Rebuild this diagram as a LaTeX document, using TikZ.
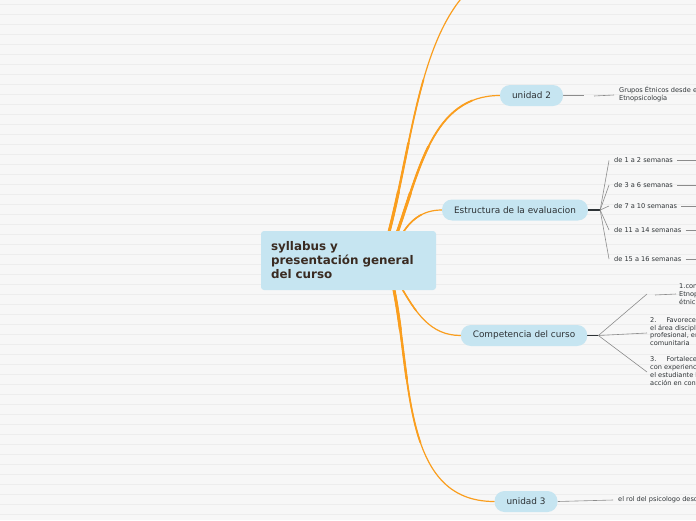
\documentclass[tikz,border=0pt]{standalone}
\usepackage{fontspec}
\setmainfont{DejaVu Sans}
\usetikzlibrary{backgrounds}
\definecolor{bubble}{HTML}{C6E5F1}
\definecolor{trunk}{HTML}{FA9E1E}
\definecolor{twig}{HTML}{8C8C8C}
\definecolor{inkbrown}{HTML}{3A2B22}
\definecolor{ink}{HTML}{2E3336}
\definecolor{paper}{HTML}{F7F7F7}
\definecolor{stripe}{HTML}{EDEDED}

\begin{document}
\begin{tikzpicture}[x=1pt,y=-1pt,
  topic/.style={fill=bubble, rounded corners=3pt, text=inkbrown, font=\bfseries\fontsize{11.9}{14}\selectfont, align=left, text width=155pt, inner xsep=10pt, minimum height=59pt},
  pill/.style={fill=bubble, rounded corners=10pt, text=ink, font=\fontsize{8.9}{10}\selectfont, inner xsep=12pt, minimum height=21pt},
  leaf/.style={text=ink, font=\fontsize{6.6}{7.7}\selectfont, inner sep=0pt, anchor=west, align=left},
  limb/.style={trunk, line cap=round},
  twigline/.style={twig, line width=0.6pt},
  knot/.style={ink, line width=1.2pt}]
\useasboundingbox (0,0) rectangle (696,520);
\clip (0,0) rectangle (696,520);

% central topic and branches
\node[topic] (root) at (348.5,260.5) {syllabus y\\presentación general\\del curso};
\node[pill] (unit2) at (531.5,95.5) {unidad 2};
\node[pill] (eval) at (515,210) {Estructura de la evaluacion};
\node[pill] (comp) at (524,335.5) {Competencia del curso};
\node[pill] (unit3) at (526,501.5) {unidad 3};
\coordinate (unit1) at (545,-40);
\coordinate (edge) at (700,0);

% leaves
\node[leaf] (ethno) at (619,94) {Grupos Étnicos desde el\\Etnopsicología};
\node[leaf] (w1) at (614,160.5) {de 1 a 2 semanas};
\node[leaf] (w2) at (614,185) {de 3 a 6 semanas};
\node[leaf] (w3) at (614,206) {de 7 a 10 semanas};
\node[leaf] (w4) at (614,230) {de 11 a 14 semanas};
\node[leaf] (w5) at (614,259) {de 15 a 16 semanas};
\node[leaf] (c1) at (679,294) {1.con\\Etnop\\étnic};
\node[leaf] (c2) at (650,331.5) {2.\hspace{10pt}Favorece\\el área discipli\\profesional, en\\comunitaria};
\node[leaf] (c3) at (650,371) {3.\hspace{10pt}Fortalece\\con experienci\\el estudiante l\\acción en cont};
\node[leaf] (role) at (618,500) {el rol del psicologo desd};

\begin{scope}[on background layer]
  \clip (0,0) rectangle (696,520);
  \fill[paper] (0,0) rectangle (696,520);
  \foreach \y in {4,14,...,514}
    \draw[stripe, line width=0.8pt] (0,\y) -- (696,\y);

  % orange limbs, thick at the root
  \foreach \w/\len in {1.2/2000, 1.8/160, 2.4/95, 3/45} {
    \draw[limb, line width=\w pt, dash pattern=on \len pt off 2000pt]
      ([xshift=39.5pt,yshift=-5pt]root.north) to[out=75,in=180] (unit1);
    \draw[limb, line width=\w pt, dash pattern=on \len pt off 2000pt]
      ([xshift=47.5pt,yshift=-5pt]root.north) to[out=70,in=180] (unit2.west);
    \draw[limb, line width=\w pt, dash pattern=on \len pt off 2000pt]
      ([xshift=44.5pt,yshift=5pt]root.south) to[out=-78,in=180] (unit3.west);
  }
  \foreach \w/\len in {1.2/2000, 1.6/30} {
    \draw[limb, line width=\w pt, dash pattern=on \len pt off 2000pt]
      ([xshift=52.5pt,yshift=-5pt]root.north) to[out=60,in=180] (eval.west);
    \draw[limb, line width=\w pt, dash pattern=on \len pt off 2000pt]
      ([xshift=51.5pt,yshift=5pt]root.south) to[out=-60,in=180] (comp.west);
  }

  % grey twigs
  \draw[twigline] (unit2.east) -- ++(21,0);
  \draw[twigline] ([xshift=-25pt,yshift=-2pt]ethno.west) -- ([xshift=-5pt,yshift=-1pt]ethno.west);
  \draw[knot] (eval.east) -- ++(12,0) coordinate (evalknot);
  \foreach \n in {1,...,5} {
    \draw[twigline] (evalknot) -- ([xshift=-5pt]w\n.west);
    \draw[twigline] ([xshift=4pt]w\n.east) -- (w\n.east -| edge);
  }
  \draw[knot] (comp.east) -- ++(11,0) coordinate (compknot);
  \draw[twigline] (compknot) -- ([xshift=-32pt]c1.west);
  \draw[twigline] ([xshift=-24pt,yshift=-1pt]c1.west) -- ([xshift=-3pt]c1.west);
  \draw[twigline] (compknot) -- ([xshift=-3pt,yshift=-1.5pt]c2.west);
  \draw[twigline] (compknot) -- ([xshift=-3pt,yshift=-1pt]c3.west);
  \draw[twigline] (unit3.east) -- ([xshift=-5pt]role.west);
\end{scope}
\end{tikzpicture}
\end{document}
